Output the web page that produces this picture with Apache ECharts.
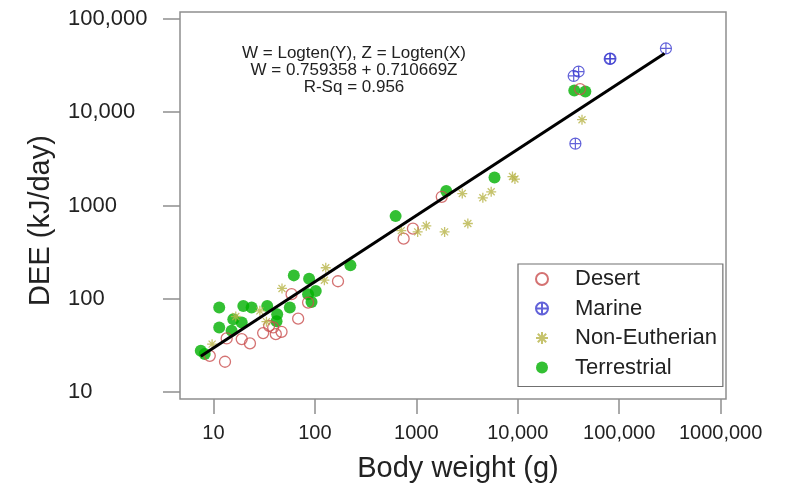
<!DOCTYPE html>
<html>
<head>
<meta charset="utf-8">
<script src="https://cdn.jsdelivr.net/npm/echarts@6/dist/echarts.min.js"></script>
<style>
  html, body { margin: 0; padding: 0; background: #fff; }
  #chart { width: 800px; height: 488px; }
</style>
</head>
<body>
<div id="chart"></div>
<script>
// [body weight g, DEE kJ/day]
const desert = [
  [9.2, 24.4], [13.0, 21.1], [13.5, 37.5], [19.0, 36.9], [22.9, 33.2],
  [30.9, 42.8], [35.4, 51.2], [38.8, 49.2], [41.2, 41.7], [46.9, 44.2],
  [58.9, 112], [68.4, 61.1], [85.7, 91.0], [169, 154], [750, 441],
  [926, 564], [1782, 1239], [41100, 17700]
];
const marine = [
  [35600, 24500], [39800, 27300], [80700, 37300], [82000, 37600],
  [289000, 48300], [37000, 4600]
];
const nonEutherian = [
  [9.7, 32.6], [16.6, 64.5], [28.7, 74.1], [33.3, 56.8], [47.4, 129],
  [128, 215], [124, 158], [711, 537], [1031, 521], [1254, 605],
  [1901, 521], [2838, 1343], [3222, 641], [4527, 1208], [5473, 1402],
  [8870, 2042], [9380, 1919], [43000, 8320]
];
const terrestrial = [
  [7.5, 27.7], [8.2, 25.5], [11.4, 80.5], [11.4, 49.2], [15.1, 45.3],
  [15.7, 60.4], [19.0, 55.6], [19.7, 83.8], [23.8, 80.5], [33.9, 83.8],
  [42.5, 68.2], [41.9, 57.4], [56.6, 80.5], [62.0, 178], [87.7, 164],
  [85.7, 112], [102, 121], [92.6, 92.5], [224, 228], [625, 769],
  [1972, 1429], [5900, 1991], [36100, 17100], [46400, 16700]
];
const fitLine = [[7.5, 24.1], [280000, 42700]];

const xTickValues = [10, 100, 1000, 10000, 100000, 1000000];
const xTickLabels = ['10', '100', '1000', '10,000', '100,000', '1000,000'];
const yTickValues = [10, 100, 1000, 10000, 100000];
const yTickLabels = ['10', '100', '1000', '10,000', '100,000'];

const legendNames = ['Desert', 'Marine', 'Non-Eutherian', 'Terrestrial'];
const noteText = 'W = Logten(Y), Z = Logten(X)\nW = 0.759358 + 0.710669Z\nR-Sq = 0.956';

const FONT = 'Arial, "Liberation Sans", sans-serif';
const plusCircle = 'path://M0,10 A10,10 0 1 0 20,10 A10,10 0 1 0 0,10 Z M10,0 L10,20 M0,10 L20,10';
const asterisk = 'path://M10,0 L10,20 M0,10 L20,10 M3,3 L17,17 M17,3 L3,17';

const chart = echarts.init(document.getElementById('chart'));

const tickLabel = labels => v => labels[Math.round(Math.log10(v)) - 1];

const option = {
  backgroundColor: '#fff',
  animation: false,
  grid: {
    left: 180, top: 12, right: 74, bottom: 88,
    show: true, borderColor: '#8e8e8e', borderWidth: 1.5
  },
  xAxis: {
    type: 'log', logBase: 10,
    min: 4.68, max: 1130000,
    name: 'Body weight (g)', nameLocation: 'middle', nameGap: 55,
    nameTextStyle: { fontSize: 29, color: '#222', fontFamily: FONT, padding: [0, 0, 0, 10] },
    axisLine: { show: false },
    axisTick: { show: true, length: 15, customValues: xTickValues,
      lineStyle: { color: '#8e8e8e', width: 1.5 } },
    axisLabel: { customValues: xTickValues, formatter: tickLabel(xTickLabels),
      margin: 24, fontSize: 20, color: '#222', fontFamily: FONT },
    splitLine: { show: false }
  },
  yAxis: {
    type: 'log', logBase: 10,
    min: 8.41, max: 118800,
    name: 'DEE (kJ/day)', nameLocation: 'middle', nameGap: 125,
    nameTextStyle: { fontSize: 29, color: '#222', fontFamily: FONT, padding: [0, 30, 0, 0] },
    axisLine: { show: false },
    axisTick: { show: true, length: 17, customValues: yTickValues,
      lineStyle: { color: '#8e8e8e', width: 1.5 } },
    axisLabel: { customValues: yTickValues, formatter: tickLabel(yTickLabels),
      align: 'left', margin: 112, fontSize: 22, color: '#222', fontFamily: FONT },
    splitLine: { show: false }
  },
  legend: {
    data: legendNames,
    orient: 'vertical',
    left: 518, top: 264,
    padding: [3, 6, 7, 17],
    itemGap: 5.5,
    itemWidth: 40, itemHeight: 12,
    backgroundColor: '#fff',
    borderColor: '#707070', borderWidth: 1.2,
    textStyle: { fontSize: 22, color: '#222', fontFamily: FONT, lineHeight: 24, padding: [0, 0, 0, 8] }
  },
  graphic: [{
    type: 'text', x: 354, y: 45,
    style: { text: noteText, font: '17px ' + FONT, fill: '#222', textAlign: 'center', lineHeight: 17 }
  }],
  series: [
    {
      name: 'Desert', type: 'scatter', data: desert, z: 3,
      symbol: 'circle', symbolSize: 11,
      itemStyle: { color: 'rgba(255,255,255,0)', borderColor: '#c94f4f', borderWidth: 1.3 }
    },
    {
      name: 'Marine', type: 'scatter', data: marine, z: 3,
      symbol: plusCircle, symbolSize: 11,
      itemStyle: { color: 'rgba(255,255,255,0)', borderColor: '#3b3bd0', borderWidth: 1.2 }
    },
    {
      name: 'Non-Eutherian', type: 'scatter', data: nonEutherian, z: 3,
      symbol: asterisk, symbolSize: 10,
      itemStyle: { color: 'rgba(255,255,255,0)', borderColor: '#b8b448', borderWidth: 1.3 }
    },
    {
      name: 'Terrestrial', type: 'scatter', data: terrestrial, z: 2,
      symbol: 'circle', symbolSize: 12,
      itemStyle: { color: '#00b000' }
    },
    {
      name: 'fit', type: 'line', data: fitLine, z: 4,
      showSymbol: false, symbol: 'none',
      lineStyle: { color: '#000', width: 3 }
    }
  ]
};

chart.setOption(option);
</script>
</body>
</html>
